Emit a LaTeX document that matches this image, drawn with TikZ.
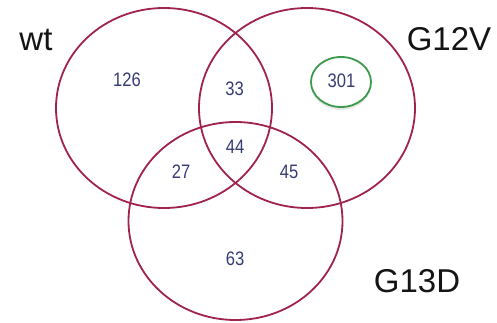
\documentclass[tikz,border=0pt]{standalone}
\usepackage{fontspec}
\setmainfont{Liberation Sans}
\usetikzlibrary{shadows}
\definecolor{ringred}{HTML}{A0224F}
\definecolor{numblue}{HTML}{383C75}
\definecolor{ringgreen}{HTML}{3C9A4C}
\definecolor{labelblack}{HTML}{141414}
\begin{document}
\begin{tikzpicture}[x=1pt,y=-1pt,
  setring/.style={draw=ringred,line width=1.8pt},
  num/.style={text=numblue,font=\fontsize{19.5}{19.5}\selectfont,xscale=0.85,inner sep=0pt},
  setlabel/.style={text=labelblack,font=\fontsize{33}{33}\selectfont,inner sep=0pt}]
\useasboundingbox (0,0) rectangle (497,322);
\draw[setring] (164,108) ellipse [x radius=108,y radius=100];
\draw[setring] (307,108) ellipse [x radius=108,y radius=100];
\draw[setring] (235.5,221) ellipse [x radius=107,y radius=99];
\draw[draw=ringgreen,line width=1.8pt,fill=white,
  drop shadow={opacity=0.18,shadow xshift=0pt,shadow yshift=-3pt}]
  (341,82) ellipse [x radius=30,y radius=25];
\node[num] (n126) at (127,80) {126};
\node[num] (n33) at (234.5,89) {33};
\node[num] (n301) at (341.5,81) {301};
\node[num] (n44) at (235,147) {44};
\node[num] (n27) at (181,172) {27};
\node[num] (n45) at (289,172) {45};
\node[num] (n63) at (235,259) {63};
\node[setlabel] (wt) at (36,40) {wt};
\node[setlabel] (g12v) at (449,39) {G12V};
\node[setlabel] (g13d) at (417,281) {G13D};
\end{tikzpicture}
\end{document}
